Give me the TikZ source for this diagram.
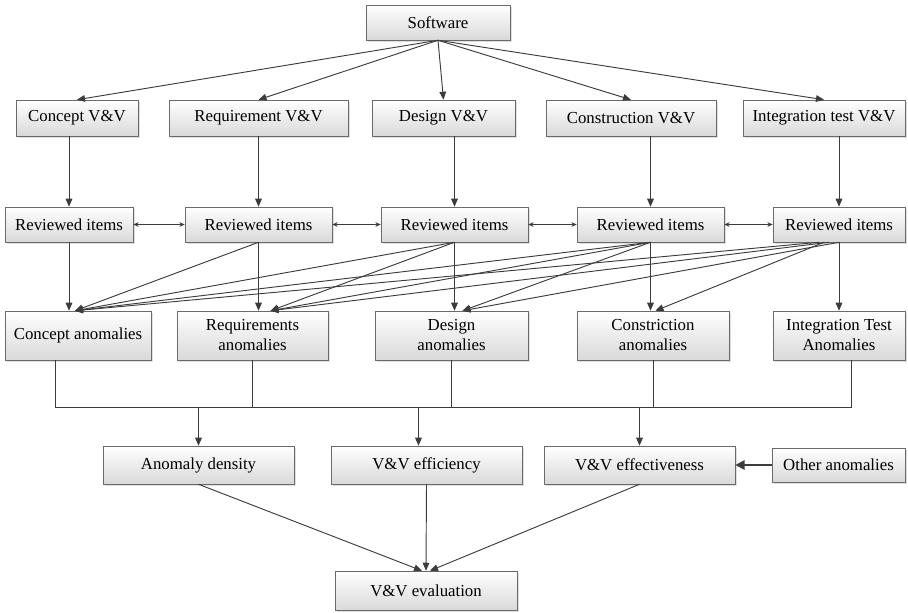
\documentclass[tikz,border=0pt]{standalone}
\usepackage{fontspec}
\setmainfont{Liberation Serif}
\definecolor{GrisTrait}{HTML}{3C3C3C}
\definecolor{GrisCadre}{HTML}{6A6A6A}
\definecolor{GrisFond}{HTML}{D9D9D9}
\usetikzlibrary{arrows.meta}
\usetikzlibrary{calc}
\usetikzlibrary{shadows}
\tikzset{
	boite/.style={shape=rectangle, draw=GrisCadre, top color=white, bottom color=GrisFond,
		align=center, text=black, inner sep=2pt, font=\fontsize{12.6}{15}\selectfont,
		drop shadow={shadow xshift=1.2pt, shadow yshift=-1.2pt, opacity=0.25, fill=black!50}},
	taille/.style 2 args={minimum width=#1*0.75pt, minimum height=#2*0.75pt},
	lien/.style={draw=GrisTrait, line width=0.7pt},
	fleche/.style={lien, -{Triangle[length=6pt,width=5pt]}},
	doublefleche/.style={lien, {Stealth[length=4pt,width=3.5pt]}-{Stealth[length=4pt,width=3.5pt]}},
	grossefleche/.style={draw=GrisTrait, line width=1.4pt, -{Triangle[length=7pt,width=7pt]}}
}
\begin{document}
\begin{tikzpicture}[x=0.75pt, y=-0.75pt]
	\useasboundingbox (0,0) rectangle (908,612);
	% top
	\node[boite, taille={144}{35}] (logiciel) at (438,22.5) {Software};
	\node[boite, taille={122}{36}] (vv1) at (77,118) {Concept V\&V};
	\node[boite, taille={179}{36}] (vv2) at (258.5,118) {Requirement V\&V};
	\node[boite, taille={143}{36}] (vv3) at (443.5,118) {Design V\&V};
	\node[boite, taille={170}{36}] (vv4) at (631,118) {Construction V\&V};
	\node[boite, taille={162}{36}] (vv5) at (824,118) {Integration test V\&V};
	% reviewed items
	\node[boite, taille={128}{35}] (rev1) at (69,224.5) {Reviewed items};
	\node[boite, taille={147}{35}] (rev2) at (258.5,224.5) {Reviewed items};
	\node[boite, taille={147}{35}] (rev3) at (454.5,224.5) {Reviewed items};
	\node[boite, taille={147}{35}] (rev4) at (650.5,224.5) {Reviewed items};
	\node[boite, taille={132}{35}] (rev5) at (839,224.5) {Reviewed items};
	% anomalies
	\node[boite, taille={146}{49}] (ano1) at (78,335.5) {Concept anomalies};
	\node[boite, taille={151}{49}] (ano2) at (252.5,335.5) {Requirements\\anomalies};
	\node[boite, taille={153}{49}] (ano3) at (451.5,335.5) {Design\\anomalies};
	\node[boite, taille={152}{49}] (ano4) at (653,335.5) {Constriction\\anomalies};
	\node[boite, taille={132}{49}] (ano5) at (839,335.5) {Integration Test\\Anomalies};
	% measures
	\node[boite, taille={191}{38}] (dens) at (198.5,465) {Anomaly density};
	\node[boite, taille={191}{38}] (effic) at (426.5,465) {V\&V efficiency};
	\node[boite, taille={191}{38}] (effect) at (639.5,465) {V\&V effectiveness};
	\node[boite, taille={133}{34}] (autres) at (838.5,465) {Other anomalies};
	\node[boite, taille={182}{39}] (eval) at (426,590.5) {V\&V evaluation};

	\draw[fleche] (logiciel.south) -- (vv1.north);
	\draw[fleche] (logiciel.south) -- (vv2.north);
	\draw[fleche] (logiciel.south) -- (vv3.north);
	\draw[fleche] (logiciel.south) -- (vv4.north);
	\draw[fleche] (logiciel.south) -- (vv5.north);

	\draw[fleche] (vv1.south -| rev1.north) -- (rev1.north);
	\draw[fleche] (vv2.south -| rev2.north) -- (rev2.north);
	\draw[fleche] (vv3.south -| rev3.north) -- (rev3.north);
	\draw[fleche] (vv4.south -| rev4.north) -- (rev4.north);
	\draw[fleche] (vv5.south -| rev5.north) -- (rev5.north);

	\draw[doublefleche] (rev1) -- (rev2);
	\draw[doublefleche] (rev2) -- (rev3);
	\draw[doublefleche] (rev3) -- (rev4);
	\draw[doublefleche] (rev4) -- (rev5);

	\draw[fleche] (rev1.south) -- (rev1.south |- ano1.north);
	\draw[fleche] (rev2.south) -- (rev2.south |- ano2.north);
	\draw[fleche] (rev3.south) -- (rev3.south |- ano3.north);
	\draw[fleche] (rev4.south) -- (rev4.south |- ano4.north);
	\draw[fleche] (rev5.south) -- (rev5.south |- ano5.north);

	\coordinate (cible1) at ($(rev1.south |- ano1.north)+(6,0)$);
	\coordinate (cible2) at ($(rev2.south |- ano2.north)+(12,0)$);
	\coordinate (cible3) at ($(rev3.south |- ano3.north)+(8,0)$);
	\coordinate (cible4) at ($(rev4.south |- ano4.north)+(5,0)$);
	\draw[fleche] (rev2.south) -- (cible1);
	\draw[fleche] (rev3.south) -- (cible1);
	\draw[fleche] (rev3.south) -- (cible2);
	\draw[fleche] (rev4.south) -- (cible1);
	\draw[fleche] (rev4.south) -- (cible2);
	\draw[fleche] (rev4.south) -- (cible3);
	\draw[fleche] ($(rev5.south)+(-20,0)$) -- (cible1);
	\draw[fleche] ($(rev5.south)+(-10,0)$) -- (cible2);
	\draw[fleche] (rev5.south) -- (cible3);
	\draw[fleche] ($(rev5.south)+(-15,0)$) -- (cible4);

	% bus
	\coordinate (bg) at (55,407);
	\coordinate (bd) at (851,407);
	\draw[lien] (ano1.south -| bg) -- (bg) -- (bd) -- (ano5.south -| bd);
	\draw[lien] (ano2.south) -- (ano2.south |- bg);
	\draw[lien] (ano3.south) -- (ano3.south |- bg);
	\draw[lien] (ano4.south) -- (ano4.south |- bg);
	\draw[fleche] (dens.north |- bg) -- (dens.north);
	\draw[fleche] ($(effic.north |- bg)+(-8,0)$) -- ($(effic.north)+(-8,0)$);
	\draw[fleche] (effect.north |- bg) -- (effect.north);

	\draw[grossefleche] (autres) -- (effect);
	\draw[fleche] (dens.south) -- ($(eval.north)+(-4,0)$);
	\draw[fleche] (effic.south) -- (eval.north);
	\draw[fleche] (effect.south) -- ($(eval.north)+(4,0)$);
\end{tikzpicture}
\end{document}
